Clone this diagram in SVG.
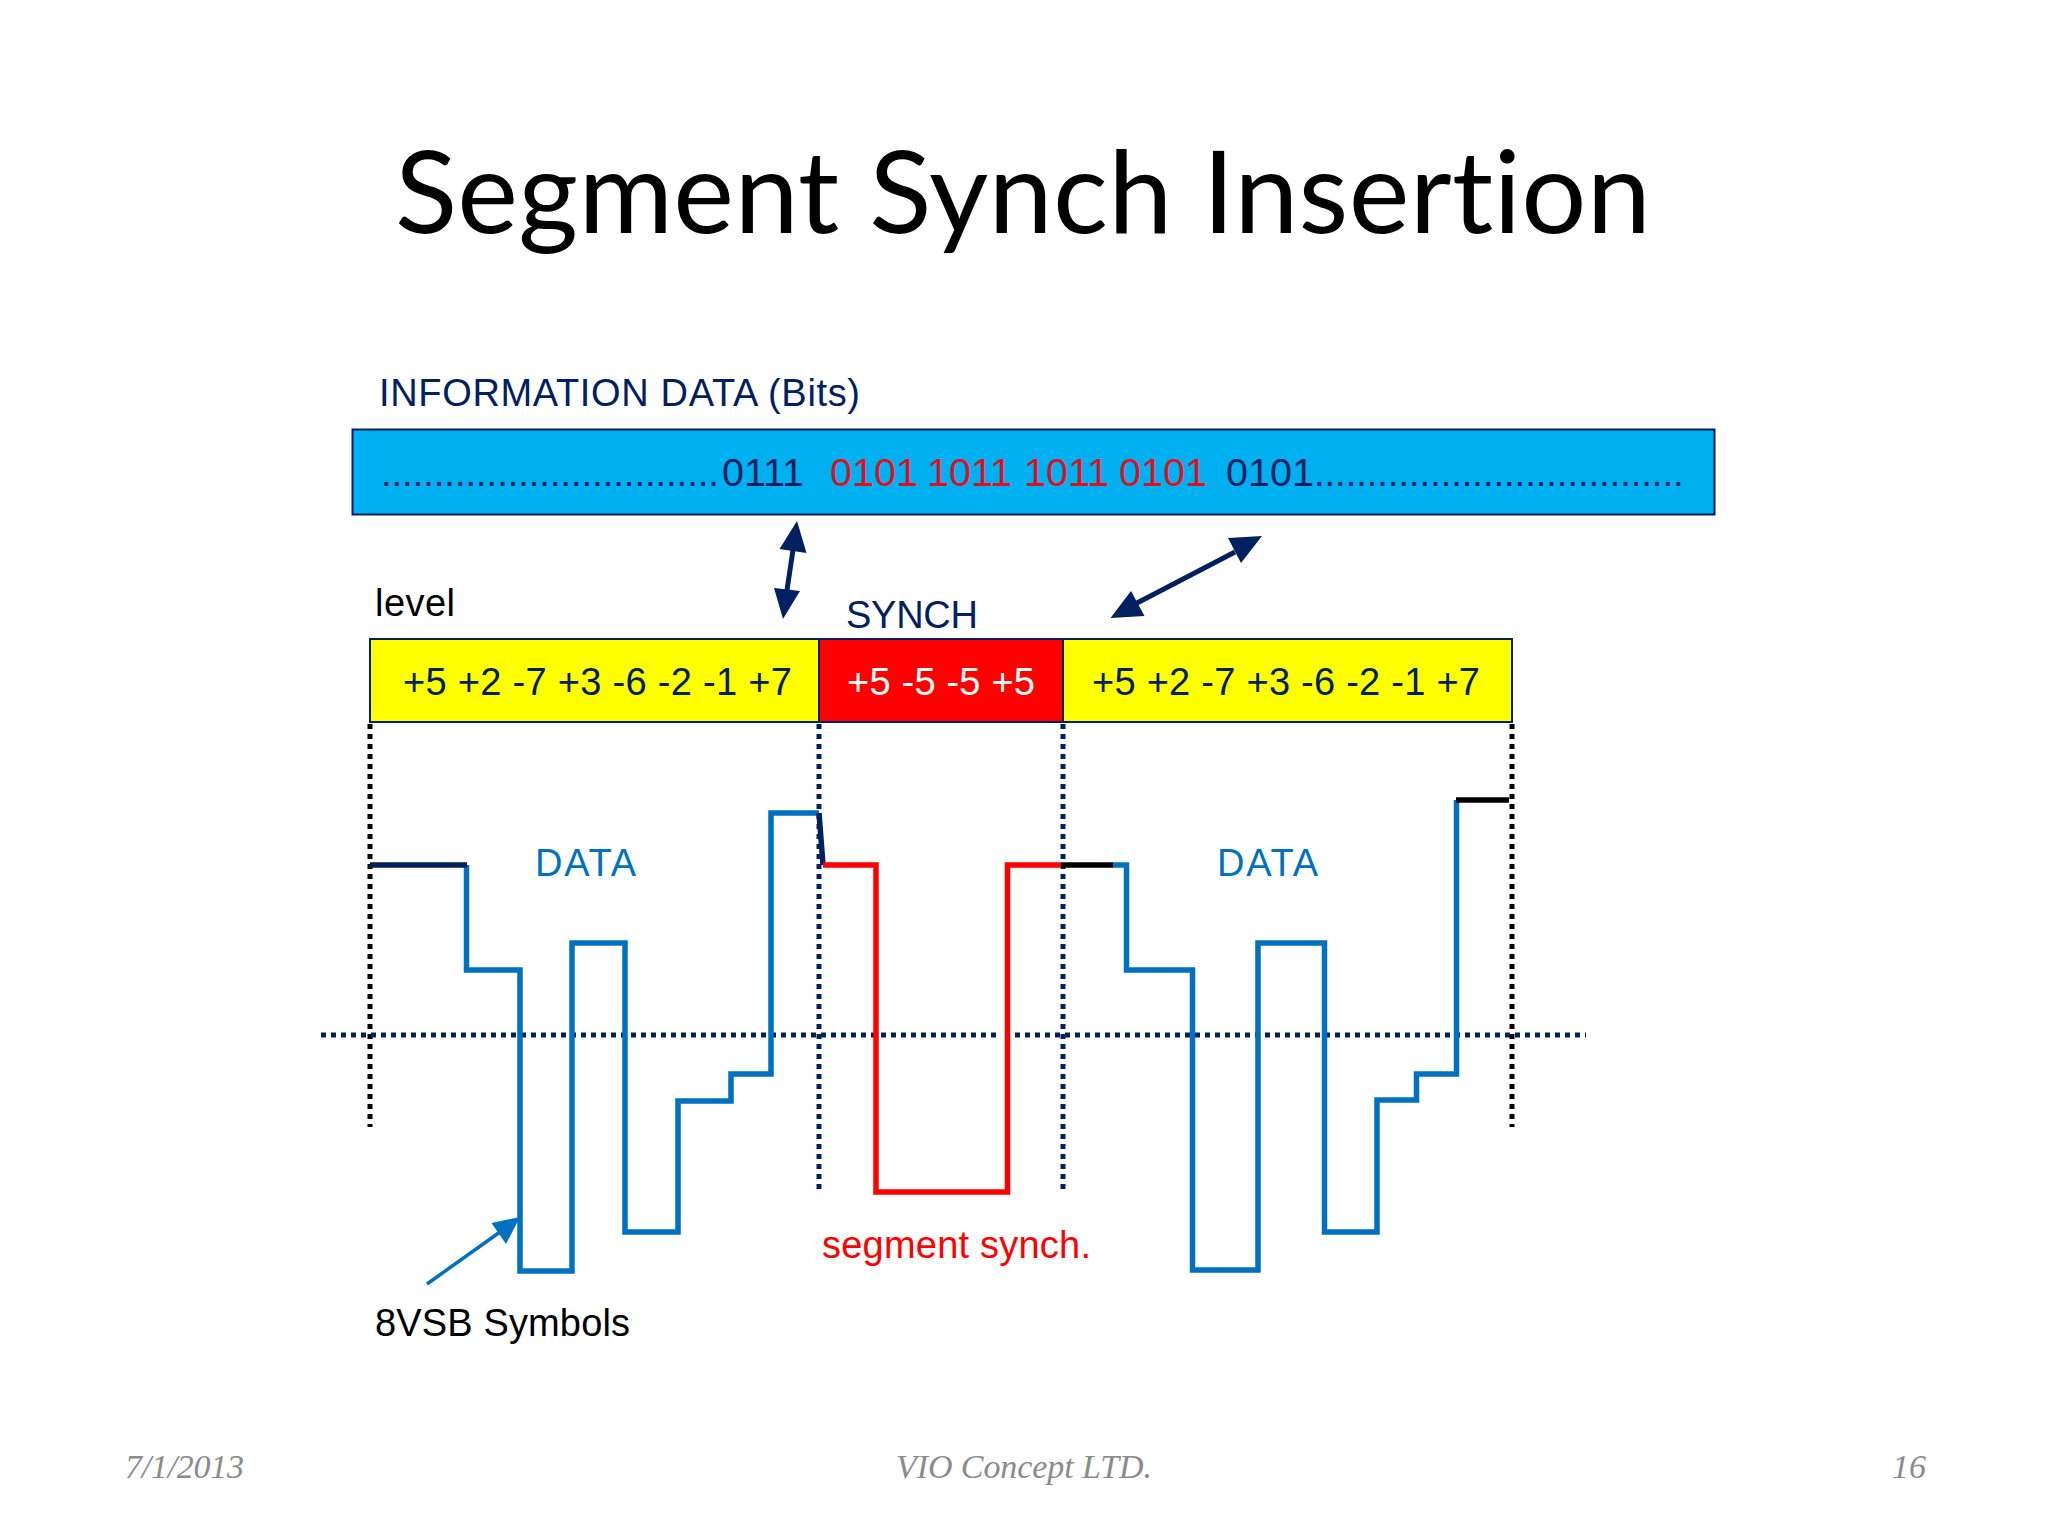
<svg xmlns="http://www.w3.org/2000/svg" width="2048" height="1536" viewBox="0 0 2048 1536">
<style>
text{font-family:"Liberation Sans",Arial,sans-serif;font-size:38px;fill:#002060}
.k{fill:#000}.r{fill:#f00}.b{fill:#0070c0}.w{fill:#fff}.br{fill:#e0101f}.d{font-size:39.500px}
.title{font-family:Lato,"Open Sans",sans-serif;font-size:115px;fill:#000;font-variant-ligatures:none}
.foot{font-family:"Liberation Serif",serif;font-style:italic;font-size:34px;fill:#8b8b8b}
.box{stroke:#002060;stroke-width:2}
.dot{fill:none;stroke-width:5;stroke-dasharray:5 5}
.wave{fill:none;stroke-width:5.500;stroke:#0070c0;stroke-linejoin:miter}
.head{fill:#002060}
</style>
<rect width="2048" height="1536" fill="#fff"/>
<text class="title" x="395" y="233" textLength="1256">Segment Synch Insertion</text>
<g id="info-label"><text x="379" y="406" textLength="481">INFORMATION DATA (Bits)</text></g>
<g id="info-bar">
<rect class="box" x="352.500" y="429.500" width="1362" height="85" fill="#00b0f0"/>
<text y="486"><tspan x="381">................................</tspan><tspan class="d" x="722">0111</tspan><tspan class="d br" x="830">0101</tspan><tspan class="d br" x="927">1011</tspan><tspan class="d br" x="1024">1011</tspan><tspan class="d br" x="1119">0101</tspan><tspan class="d" x="1226">0101</tspan><tspan x="1314">...................................</tspan></text>
</g>
<g id="level-label"><text class="k" x="375" y="616" textLength="80">level</text></g>
<g id="synch-label"><text x="846" y="628" textLength="132">SYNCH</text></g>
<g id="level-data-1"><rect class="box" x="370" y="639" width="449" height="83" fill="#ff0"/><text x="403" y="695" textLength="389">+5 +2 -7 +3 -6 -2 -1 +7</text></g>
<g id="level-synch"><rect class="box" x="819" y="639" width="244" height="83" fill="#f00"/><text class="w" x="847" y="695" textLength="188">+5 -5 -5 +5</text></g>
<g id="level-data-2"><rect class="box" x="1063" y="639" width="449" height="83" fill="#ff0"/><text x="1092" y="695" textLength="388">+5 +2 -7 +3 -6 -2 -1 +7</text></g>
<g id="connectors">
<path class="dot" stroke="#000" d="M370 724V1127M1512 724V1127"/>
<path class="dot" stroke="#002060" d="M819 724V1192M1063 724V1192"/>
<path class="dot" stroke="#002060" d="M321 1035H1001M1015 1035H1586"/>
<path class="wave" d="M466.500 865V970H520V1271H572V943H625V1232H678V1101H731V1074H771V813H819"/>
<path class="wave" style="stroke:#002060" d="M370 865H467M819 813L823 865"/>
<path class="wave" style="stroke:#f00" d="M823 865H876V1192H1007.500V865H1061"/>
<path class="wave" d="M1113 865H1126.500V970H1192.500V1270H1258V943H1324.500V1232H1377V1100H1416.500V1074H1456.500V800"/>
<path class="wave" style="stroke:#000" d="M1061 865H1113M1456 800H1509"/>
<path fill="none" stroke="#002060" stroke-width="5" d="M793 550L787 590M1235 552L1137 603"/>
<path class="head" d="M797 521L779.500 549L806.500 553ZM783 619L774 588L800 591ZM1262 536L1228 538L1241 563ZM1110.500 618L1131 591L1144.500 616Z"/>
<path fill="none" stroke="#0070c0" stroke-width="3.500" d="M427 1284L500 1232"/>
<path d="M520 1217L491.500 1223L506 1244Z" fill="#0070c0"/>
</g>
<g id="data-1"><text class="b" x="535" y="876" textLength="101">DATA</text></g>
<g id="data-2"><text class="b" x="1217" y="876" textLength="101">DATA</text></g>
<g id="segment-synch"><text class="r" x="822" y="1258" textLength="269">segment synch.</text></g>
<g id="symbols"><text class="k" x="375" y="1336" textLength="255">8VSB Symbols</text></g>
<text class="foot" x="125" y="1478" textLength="119">7/1/2013</text>
<text class="foot" x="896" y="1478" textLength="256">VIO Concept LTD.</text>
<text class="foot" x="1926" y="1478" text-anchor="end">16</text>
</svg>
